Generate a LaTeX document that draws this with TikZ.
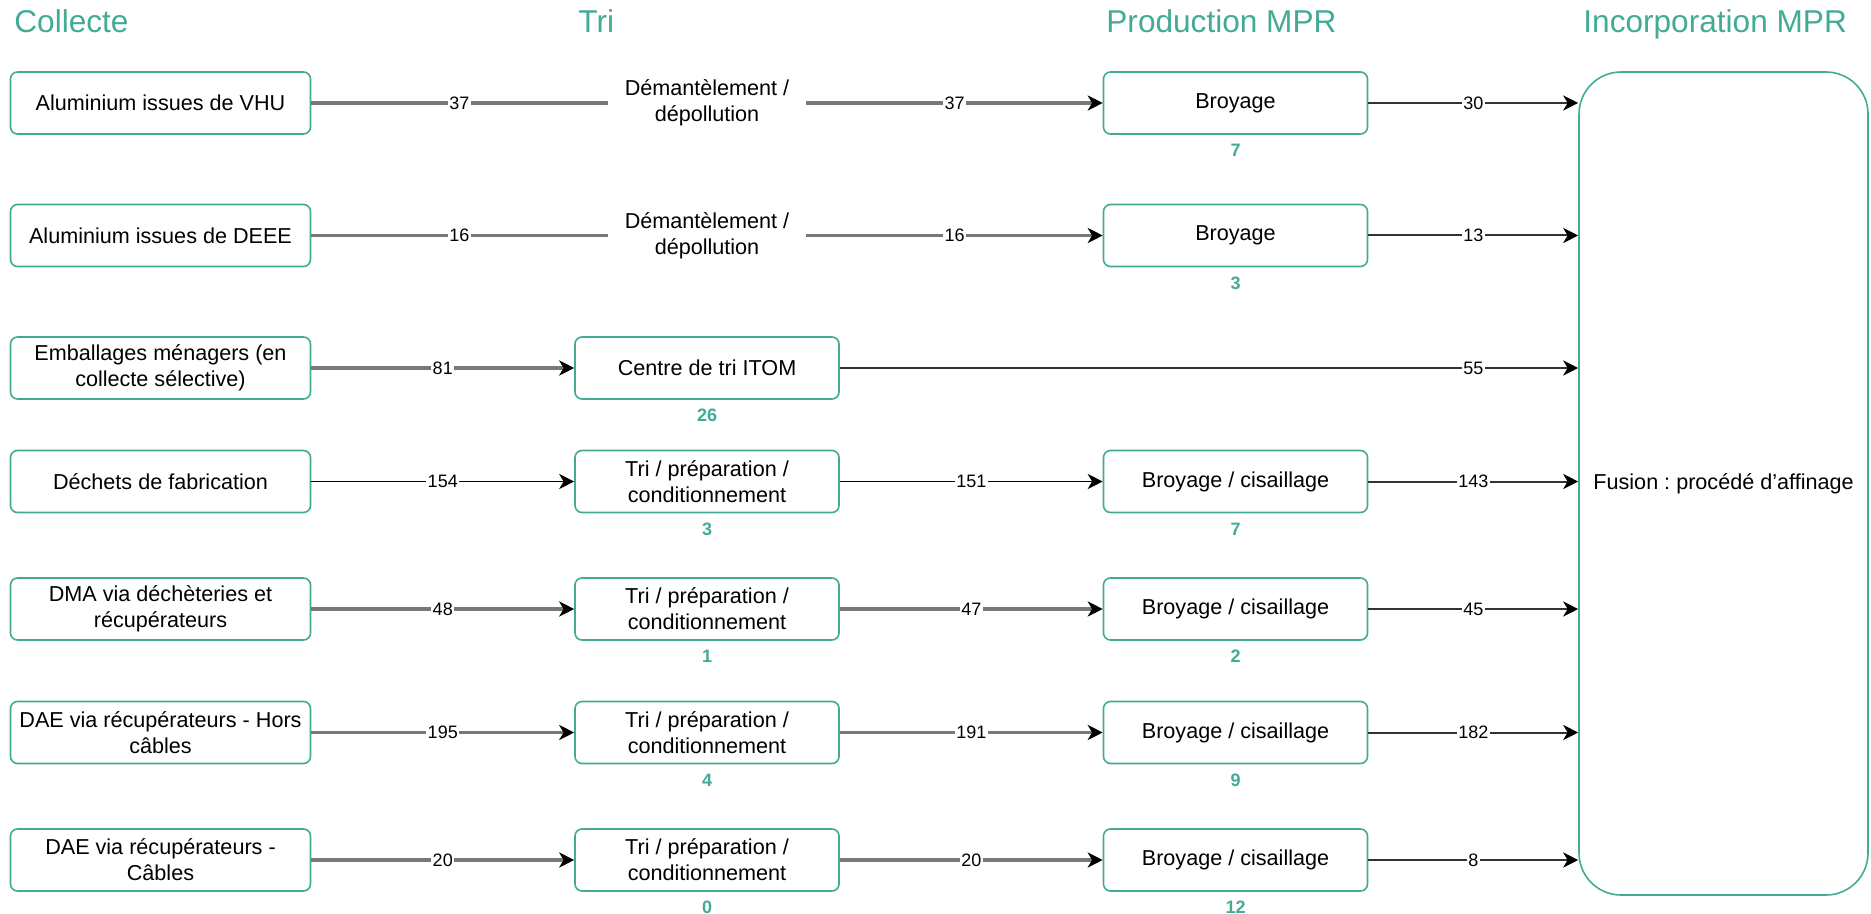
\documentclass[tikz,border=0pt]{standalone}
\usepackage{fontspec}
\setmainfont{Liberation Sans}
\usepackage{tikz}
\usetikzlibrary{arrows.meta, positioning}
\definecolor{vert}{RGB}{67,170,150}
\definecolor{trait}{RGB}{120,120,120}

\begin{document}
\begin{tikzpicture}[x=0.5pt, y=-0.5pt,
  titre/.style={anchor=base west, inner sep=0pt, text=vert,
                font=\fontsize{15.8}{19}\selectfont},
  source/.style={rectangle, rounded corners=3.5pt, draw=vert, line width=0.8pt,
                 minimum width=150pt, minimum height=31pt,
                 font=\fontsize{10.8}{13}\selectfont, align=center},
  etape/.style={source, minimum width=132pt},
  demont/.style={minimum width=99pt, font=\fontsize{10.8}{13}\selectfont, align=center},
  qte/.style={inner sep=0pt, text=vert, font=\fontsize{9}{11}\selectfont\bfseries},
  flux/.style={draw=trait, line width=1.7pt},
  fluxn/.style={draw=black, line width=0.9pt},
  sortie/.style={draw=black!80, line width=1pt},
  fleche/.style={-{Stealth[length=7.5pt, width=7.5pt, inset=2.2pt, color=black]}},
  val/.style={midway, fill=white, inner sep=0.8pt, text=black,
              font=\fontsize{9}{10}\selectfont}
]
  \useasboundingbox (0,0) rectangle (1871,914);

  \node[titre] (tcol)  at (14,33)   {Collecte};
  \node[titre] (ttri)  at (578,33)  {Tri};
  \node[titre] (tprod) at (1106,33) {Production MPR};
  \node[titre] (tinc)  at (1583,33) {Incorporation MPR};

  \node[source] (s1) at (160.5,103)   {Aluminium issues de VHU};
  \node[source] (s2) at (160.5,235.5) {Aluminium issues de DEEE};
  \node[source] (s3) at (160.5,368)   {Emballages ménagers (en\\collecte sélective)};
  \node[source] (s4) at (160.5,481.5) {Déchets de fabrication};
  \node[source] (s5) at (160.5,609)   {DMA via déchèteries et\\récupérateurs};
  \node[source] (s6) at (160.5,732.5) {DAE via récupérateurs - Hors\\câbles};
  \node[source] (s7) at (160.5,860)   {DAE via récupérateurs -\\Câbles};

  \node[demont] (t1) at (707,103)   {Démantèlement /\\dépollution};
  \node[demont] (t2) at (707,235.5) {Démantèlement /\\dépollution};
  \node[etape]  (t3) at (707,368)   {Centre de tri ITOM};
  \node[etape]  (t4) at (707,481.5) {Tri / préparation /\\conditionnement};
  \node[etape]  (t5) at (707,609)   {Tri / préparation /\\conditionnement};
  \node[etape]  (t6) at (707,732.5) {Tri / préparation /\\conditionnement};
  \node[etape]  (t7) at (707,860)   {Tri / préparation /\\conditionnement};

  \node[etape] (p1) at (1235.5,103)   {Broyage};
  \node[etape] (p2) at (1235.5,235.5) {Broyage};
  \node[etape] (p4) at (1235.5,481.5) {Broyage / cisaillage};
  \node[etape] (p5) at (1235.5,609)   {Broyage / cisaillage};
  \node[etape] (p6) at (1235.5,732.5) {Broyage / cisaillage};
  \node[etape] (p7) at (1235.5,860)   {Broyage / cisaillage};

  \node[source, rounded corners=21pt, minimum width=144.5pt, minimum height=411.5pt]
    (fus) at (1723.5,483.5) {\frenchspacing Fusion : procédé d'affinage};

  \node[qte, below=4.5pt of p1] (qp1) {7};
  \node[qte, below=4.5pt of p2] (qp2) {3};
  \node[qte, below=4.5pt of t3] (qt3) {26};
  \node[qte, below=4.5pt of t4] (qt4) {3};
  \node[qte, below=4.5pt of p4] (qp4) {7};
  \node[qte, below=4.5pt of t5] (qt5) {1};
  \node[qte, below=4.5pt of p5] (qp5) {2};
  \node[qte, below=4.5pt of t6] (qt6) {4};
  \node[qte, below=4.5pt of p6] (qp6) {9};
  \node[qte, below=4.5pt of t7] (qt7) {0};
  \node[qte, below=4.5pt of p7] (qp7) {12};

  \draw[flux] (s1) -- node[val] {37} (t1);
  \draw[flux, fleche] (t1) -- node[val] {37} (p1);
  \draw[sortie, fleche] (p1) -- node[val] {30} (p1 -| fus.west);

  \draw[flux] (s2) -- node[val] {16} (t2);
  \draw[flux, fleche] (t2) -- node[val] {16} (p2);
  \draw[sortie, fleche] (p2) -- node[val] {13} (p2 -| fus.west);

  \draw[flux, fleche] (s3) -- node[val] {81} (t3);
  \draw[sortie, fleche] (t3) -- node[val, pos=0.858] {55} (t3 -| fus.west);

  \draw[fluxn, fleche] (s4) -- node[val] {154} (t4);
  \draw[fluxn, fleche] (t4) -- node[val] {151} (p4);
  \draw[sortie, fleche] (p4) -- node[val] {143} (p4 -| fus.west);

  \draw[flux, fleche] (s5) -- node[val] {48} (t5);
  \draw[flux, fleche] (t5) -- node[val] {47} (p5);
  \draw[sortie, fleche] (p5) -- node[val] {45} (p5 -| fus.west);

  \draw[flux, fleche] (s6) -- node[val] {195} (t6);
  \draw[flux, fleche] (t6) -- node[val] {191} (p6);
  \draw[sortie, fleche] (p6) -- node[val] {182} (p6 -| fus.west);

  \draw[flux, fleche] (s7) -- node[val] {20} (t7);
  \draw[flux, fleche] (t7) -- node[val] {20} (p7);
  \draw[sortie, fleche] (p7) -- node[val] {8} (p7 -| fus.west);
\end{tikzpicture}
\end{document}
